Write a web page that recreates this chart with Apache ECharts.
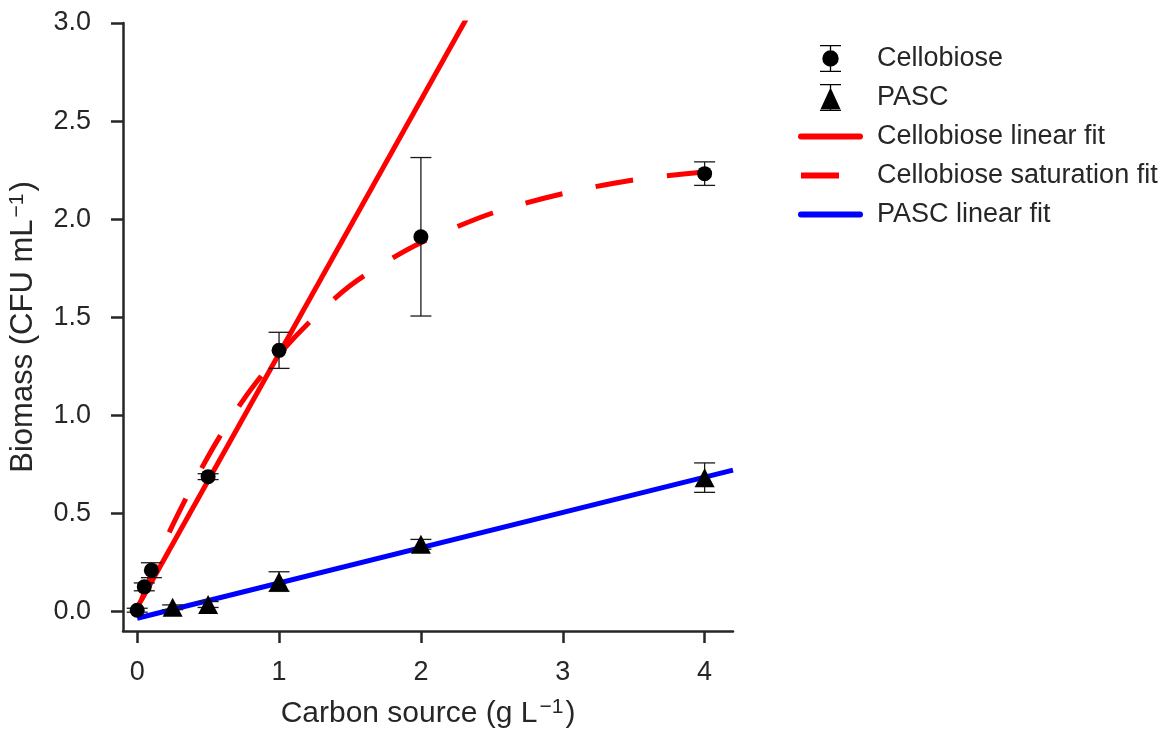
<!DOCTYPE html>
<html>
<head>
<meta charset="utf-8">
<script src="https://cdn.jsdelivr.net/npm/echarts@6/dist/echarts.min.js"></script>
<style>
html,body{margin:0;padding:0;background:#fff;}
#chart{width:1170px;height:732px;}
</style>
</head>
<body>
<div id="chart"></div>
<script>
// ---- data ----
const xTicks = [0, 1, 2, 3, 4];
const yTicks = [0, 0.5, 1.0, 1.5, 2.0, 2.5, 3.0];

const cellX = [0, 0.05, 0.1, 0.5, 1, 2, 4];
const cellY = [0.006, 0.125, 0.21, 0.687, 1.331, 1.91, 2.232];
const cellErr = [0.01, 0.02, 0.038, 0.015, 0.092, 0.404, 0.06];

const pascX = [0.25, 0.5, 1, 2, 4];
const pascY = [0.021, 0.035, 0.152, 0.342, 0.682];
const pascErr = [0.012, 0.015, 0.05, 0.025, 0.075];

const cellLinX = [0, 2.35];
const cellLinY = [0.02, 3.06];

// saturation fit, listed from the right end (x = 4) back to x = 0
const satX = [4, 3.5, 3, 2.5, 2, 1.75, 1.5, 1.25, 1, 0.75, 0.5, 0.25, 0.1, 0];
const satY = [2.24, 2.20, 2.13, 2.03, 1.88, 1.78, 1.66, 1.50, 1.31, 1.08, 0.79, 0.44, 0.19, 0];

const pascLinX = [0, 4.2];
const pascLinY = [-0.035, 0.72];

const names = ['Cellobiose', 'PASC', 'Cellobiose linear fit', 'Cellobiose saturation fit', 'PASC linear fit'];
// ---------------------------------------

const zip = (a, b) => a.map((v, i) => [v, b[i]]);
const zip3 = (a, b, c) => a.map((v, i) => [v, b[i], c[i]]);

const FONT = 'Liberation Sans, Arial, Helvetica, sans-serif';
const INK = '#262626';
const DASH = [38, 34];

const cellIcon = 'path://M0 0H21V1.3H0ZM0 25.7H21V27H0ZM9.85 0H11.15V27H9.85ZM2.3 13.5A8.2 8.2 0 0 1 18.7 13.5A8.2 8.2 0 0 1 2.3 13.5Z';
const pascIcon = 'path://M0 0H21V1.3H0ZM0 25.7H21V27H0ZM9.85 0H11.15V27H9.85ZM10.5 3.5L20.5 25.2L0.5 25.2Z';

function errRender(params, api) {
  const x = api.value(0), y = api.value(1), e = api.value(2);
  const top = api.coord([x, y + e]);
  const bot = api.coord([x, y - e]);
  const hw = 10.5;
  const style = { stroke: '#1a1a1a', lineWidth: 1.3, fill: null };
  return {
    type: 'group',
    children: [
      { type: 'line', shape: { x1: top[0], y1: top[1], x2: bot[0], y2: bot[1] }, style },
      { type: 'line', shape: { x1: top[0] - hw, y1: top[1], x2: top[0] + hw, y2: top[1] }, style },
      { type: 'line', shape: { x1: bot[0] - hw, y1: bot[1], x2: bot[0] + hw, y2: bot[1] }, style }
    ]
  };
}

const chart = echarts.init(document.getElementById('chart'), null, { renderer: 'canvas' });

const supRich = {
  sup: { fontSize: 21, verticalAlign: 'top', fontFamily: FONT, color: INK, padding: [0, 2, 12, 2] }
};

chart.setOption({
  animation: false,
  backgroundColor: '#ffffff',
  textStyle: { fontFamily: FONT, color: INK },
  grid: { left: 123, right: 437, top: 23, bottom: 101, outerBoundsMode: 'none', containLabel: false },
  xAxis: {
    type: 'value',
    min: -0.1, max: 4.2,
    name: 'Carbon source (g L{sup|−1})',
    nameLocation: 'middle',
    nameGap: 66,
    nameTextStyle: { fontSize: 30, color: INK, fontFamily: FONT, rich: supRich },
    axisLine: { show: true, onZero: false, lineStyle: { color: INK, width: 2.5 } },
    axisTick: { show: true, length: 12, inside: false, lineStyle: { color: INK, width: 2.5 }, customValues: xTicks },
    axisLabel: { show: true, margin: 28, fontSize: 27, color: INK, fontFamily: FONT, customValues: xTicks, formatter: v => String(v) },
    splitLine: { show: false }
  },
  yAxis: {
    type: 'value',
    min: -0.1, max: 3.0,
    name: 'Biomass (CFU mL{sup|−1})',
    nameLocation: 'middle',
    nameGap: 83,
    nameRotate: 90,
    nameTextStyle: { fontSize: 31, color: INK, fontFamily: FONT, rich: supRich },
    axisLine: { show: true, onZero: false, lineStyle: { color: INK, width: 2.5 } },
    axisTick: { show: true, length: 12, inside: false, lineStyle: { color: INK, width: 2.5 }, customValues: yTicks },
    axisLabel: { show: true, margin: 32, fontSize: 27, color: INK, fontFamily: FONT, customValues: yTicks, formatter: v => v.toFixed(1) },
    splitLine: { show: false }
  },
  legend: {
    orient: 'vertical',
    left: 798,
    top: 45,
    itemWidth: 59,
    itemHeight: 27,
    itemGap: 12,
    padding: 0,
    textStyle: { fontSize: 27, color: INK, fontFamily: FONT, lineHeight: 27, padding: [0, 0, 0, 12] },
    data: [
      { name: names[0], icon: cellIcon, itemStyle: { color: '#000' } },
      { name: names[1], icon: pascIcon, itemStyle: { color: '#000' } },
      { name: names[2], itemStyle: { opacity: 0 }, lineStyle: { width: 6, cap: 'round', color: '#ff0000' } },
      { name: names[3], itemStyle: { opacity: 0 }, lineStyle: { width: 6, cap: 'butt', type: DASH, color: '#ff0000' } },
      { name: names[4], itemStyle: { opacity: 0 }, lineStyle: { width: 6, cap: 'round', color: '#0000ff' } }
    ]
  },
  series: [
    {
      name: names[2], type: 'line', data: zip(cellLinX, cellLinY),
      symbol: 'none', showSymbol: false, clip: true, z: 2,
      lineStyle: { color: '#ff0000', width: 5 }, itemStyle: { color: '#ff0000' }
    },
    {
      name: names[3], type: 'line', data: zip(satX, satY), smooth: 0.3,
      symbol: 'none', showSymbol: false, clip: true, z: 2,
      lineStyle: { color: '#ff0000', width: 5, type: DASH, cap: 'butt' }, itemStyle: { color: '#ff0000' }
    },
    {
      name: names[4], type: 'line', data: zip(pascLinX, pascLinY),
      symbol: 'none', showSymbol: false, clip: true, z: 2,
      lineStyle: { color: '#0000ff', width: 5 }, itemStyle: { color: '#0000ff' }
    },
    {
      name: 'cellErr', type: 'custom', data: zip3(cellX, cellY, cellErr),
      renderItem: errRender, z: 3, silent: true, clip: false
    },
    {
      name: 'pascErr', type: 'custom', data: zip3(pascX, pascY, pascErr),
      renderItem: errRender, z: 3, silent: true, clip: false
    },
    {
      name: names[0], type: 'scatter', data: zip(cellX, cellY),
      symbol: 'circle', symbolSize: 15, z: 4,
      itemStyle: { color: '#000', opacity: 1 }
    },
    {
      name: names[1], type: 'scatter', data: zip(pascX, pascY),
      symbol: 'triangle', symbolSize: [20, 19], z: 4,
      itemStyle: { color: '#000', opacity: 1 }
    }
  ]
});
</script>
</body>
</html>
